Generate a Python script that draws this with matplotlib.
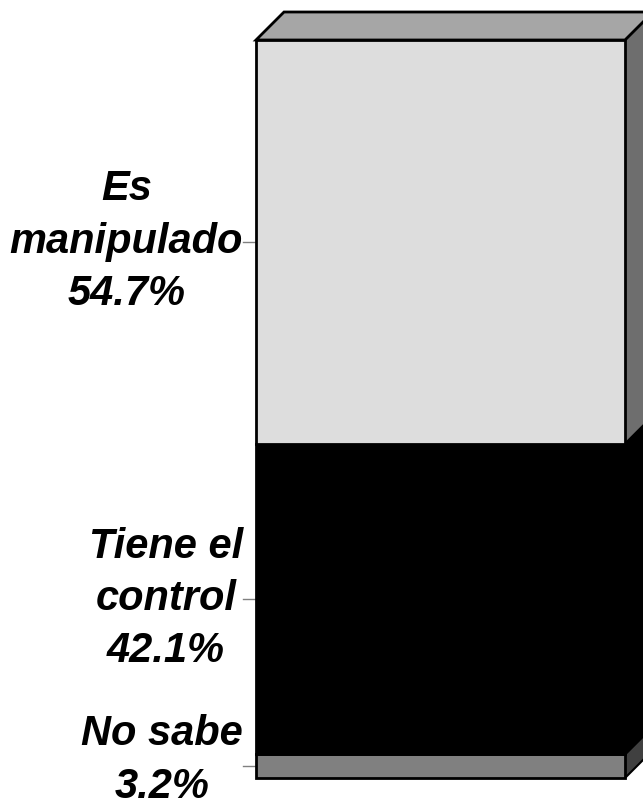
import matplotlib.pyplot as plt
from matplotlib.patches import Polygon

categories = ['No sabe', 'Tiene el\ncontrol', 'Es\nmanipulado']
values = [3.2, 42.1, 54.7]
front_colors = ['#808080', '#000000', '#DDDDDD']
side_colors = ['#404040', '#000000', '#6E6E6E']
top_color = '#A6A6A6'

fig = plt.figure(figsize=(6.43, 8.09), dpi=100)
ax = fig.add_axes([256 / 643, 31 / 809, 369 / 643, 738 / 809])
ax.set_xlim(-0.5, 0.5)
ax.set_ylim(0, 100)
ax.axis('off')

# depth of the fake 3d box, in data units
dx = 28 / 369
dy = 28 / 738 * 100
gap = 13 / 369

bottom = 0
for i, (cat, val, fc, sc) in enumerate(zip(categories, values, front_colors, side_colors)):
    top = bottom + val
    ax.bar(0, val, width=1, bottom=bottom, color=fc, edgecolor='black',
           linewidth=2, zorder=3, clip_on=False)
    side = Polygon([(0.5, bottom), (0.5 + dx, bottom + dy),
                    (0.5 + dx, top + dy), (0.5, top)],
                   closed=True, facecolor=sc, edgecolor='black',
                   linewidth=1.5, zorder=2, clip_on=False)
    ax.add_patch(side)
    mid = bottom + val / 2
    ax.plot([-0.5 - gap, -0.5], [mid, mid], color='#808080', lw=1,
            clip_on=False, zorder=1)
    # lowest label would run off the bottom edge, nudge it up a bit
    lift = 4 if i == 0 else 0
    ax.annotate(f'{cat}\n{val:.1f}%', xy=(-0.5 - gap, mid),
                xytext=(0, lift), textcoords='offset points',
                ha='right', va='center', multialignment='center',
                fontsize=30, fontweight='bold', fontstyle='italic',
                family='Liberation Sans', linespacing=1.4,
                annotation_clip=False)
    bottom = top

top_face = Polygon([(-0.5, bottom), (-0.5 + dx, bottom + dy),
                    (0.5 + dx, bottom + dy), (0.5, bottom)],
                   closed=True, facecolor=top_color, edgecolor='black',
                   linewidth=2, zorder=2, clip_on=False)
ax.add_patch(top_face)

fig.savefig('out.png', dpi=100)
